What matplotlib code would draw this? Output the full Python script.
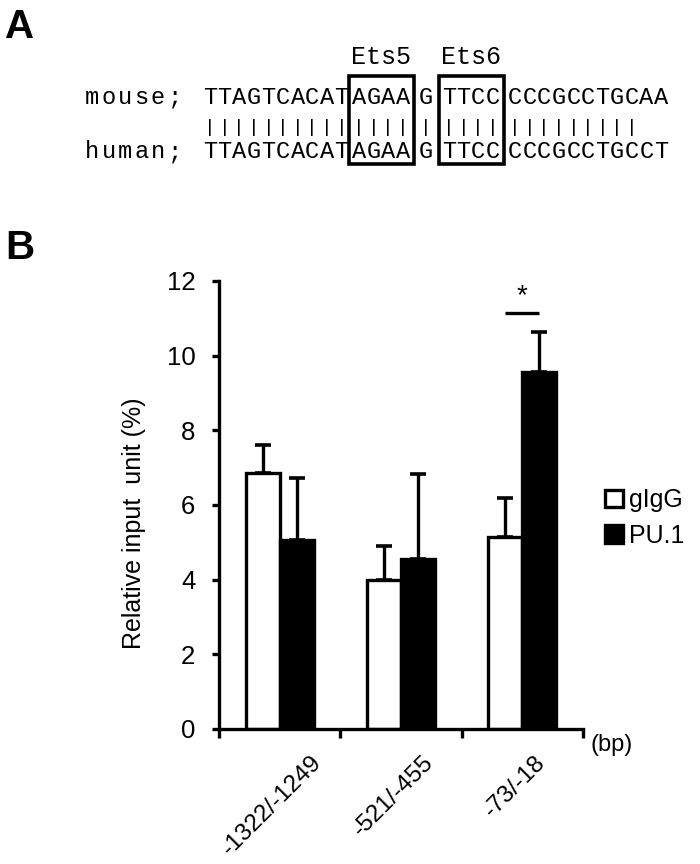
import matplotlib
matplotlib.use('Agg')
import matplotlib.pyplot as plt
import matplotlib.transforms as mtransforms
from matplotlib.patches import Rectangle

plt.rcParams.update({
    'font.family': ['Liberation Sans', 'DejaVu Sans'],
    'font.size': 16,
})

# ============================================================
# Data
# ============================================================
mouse_segs = ['TTAGTCACAT', 'AGAA', 'G', 'TTCC', 'CCCGCCTGCAA']
human_segs = ['TTAGTCACAT', 'AGAA', 'G', 'TTCC', 'CCCGCCTGCCT']
boxed = {1: 'Ets5', 3: 'Ets6'}

regions = ['-1322/-1249', '-521/-455', '-73/-18']
gigg = [6.85, 4.0, 5.15]
gigg_err = [0.75, 0.9, 1.05]
pu1 = [5.05, 4.55, 9.55]
pu1_err = [1.68, 2.28, 1.08]
yticks = [0, 2, 4, 6, 8, 10, 12]

# ============================================================
# Figure (700 x 864 px)
# ============================================================
fig = plt.figure(figsize=(7, 8.64), dpi=100)

# overlay in pixel coordinates for panel A and panel letters
ov = fig.add_axes([0, 0, 1, 1])
ov.set_xlim(0, 700)
ov.set_ylim(864, 0)
ov.axis('off')

ov.text(5, 8, 'A', fontsize=29, fontweight='bold', va='top', ha='left')
ov.text(5, 229, 'B', fontsize=29, fontweight='bold', va='top', ha='left')

MONO = 'Liberation Mono'
ROW_M, ROW_BAR, ROW_H = 97, 128, 152
seg_start = [210, 359, 426, 449, 515]
pitch = 14.6
name_pitch = 16.5


def draw_chars(s, x0, step, y, size=17):
    for i, ch in enumerate(s):
        ov.text(x0 + i * step, y, ch, family=MONO, fontsize=size,
                ha='center', va='center')


draw_chars('mouse;', 92, name_pitch, ROW_M)
draw_chars('human;', 92, name_pitch, ROW_H)

for k, (ms, hs) in enumerate(zip(mouse_segs, human_segs)):
    x0 = seg_start[k]
    draw_chars(ms, x0, pitch, ROW_M)
    draw_chars(hs, x0, pitch, ROW_H)
    for i, (a, b) in enumerate(zip(ms, hs)):
        if a == b:
            ov.text(x0 + i * pitch, ROW_BAR, '|', family=MONO, fontsize=14,
                    ha='center', va='center')
    if k in boxed:
        left = x0 - pitch / 2 - 3
        right = x0 + (len(ms) - 1) * pitch + pitch / 2 + 4
        ov.add_patch(Rectangle((left, 76), right - left, 88, fill=False,
                               lw=2.6, edgecolor='black'))
        ov.text((left + right) / 2, 57, boxed[k], family=MONO, fontsize=18,
                ha='center', va='center')

# ============================================================
# Panel B - bar chart
# ============================================================
ax = fig.add_axes([219 / 700, (864 - 729) / 864, 364 / 700, 448 / 864])
centers = [i + 0.5 for i in range(len(regions))]
w = 0.28

err_kw = dict(elinewidth=2.4, capsize=6, capthick=2.6, ecolor='black')
b1 = ax.bar([c - w / 2 for c in centers], gigg, w, color='white',
            edgecolor='black', linewidth=2.4,
            yerr=[[0] * 3, gigg_err], error_kw=err_kw, label='gIgG', zorder=2)
b2 = ax.bar([c + w / 2 for c in centers], pu1, w, color='black',
            edgecolor='black', linewidth=2.4,
            yerr=[[0] * 3, pu1_err], error_kw=err_kw, label='PU.1', zorder=2)

ax.set_xlim(0, 3)
ax.set_ylim(0, 12)
for s in ['top', 'right']:
    ax.spines[s].set_visible(False)
for s in ['left', 'bottom']:
    ax.spines[s].set_linewidth(2.4)

ax.set_yticks(yticks)
ax.tick_params(axis='y', direction='out', length=5, width=2.4, pad=12,
               labelsize=18.5)
ax.set_xticks([0, 1, 2, 3])
ax.set_xticklabels([])
ax.tick_params(axis='x', which='major', direction='out', length=6.5, width=2.4)
ax.set_xticks(centers, regions, minor=True)
ax.tick_params(axis='x', which='minor', length=0, pad=16, labelsize=17.5)
off = mtransforms.ScaledTranslation(-8 / 100, 0, fig.dpi_scale_trans)
for lab in ax.get_xticklabels(minor=True):
    lab.set_rotation(45)
    lab.set_ha('center')
    lab.set_va('top')
    lab.set_transform(lab.get_transform() + off)

ax.set_ylabel('Relative input  unit (%)', fontsize=18)
ax.yaxis.set_label_coords(-0.2, 0.46)

ax.annotate('(bp)', xy=(3, 0), xycoords='data', xytext=(8, -16),
            textcoords='offset pixels', fontsize=17, ha='left', va='center')

# significance mark
star_y = 11.15
ax.plot([centers[2] - w / 2, centers[2] + w / 2], [star_y, star_y],
        color='black', lw=2.4, solid_capstyle='butt', clip_on=False)
ax.text(centers[2], star_y + 0.1, '*', ha='center', va='bottom', fontsize=20)

ax.legend(handles=[b1, b2], loc='center left', frameon=False,
          bbox_to_anchor=(605 / 700, 1 - 518 / 864),
          bbox_transform=fig.transFigure, fontsize=18,
          handlelength=0.7, handleheight=0.7, handletextpad=0.25,
          labelspacing=0.45, borderpad=0, borderaxespad=0)

fig.savefig('out.png', dpi=100)
